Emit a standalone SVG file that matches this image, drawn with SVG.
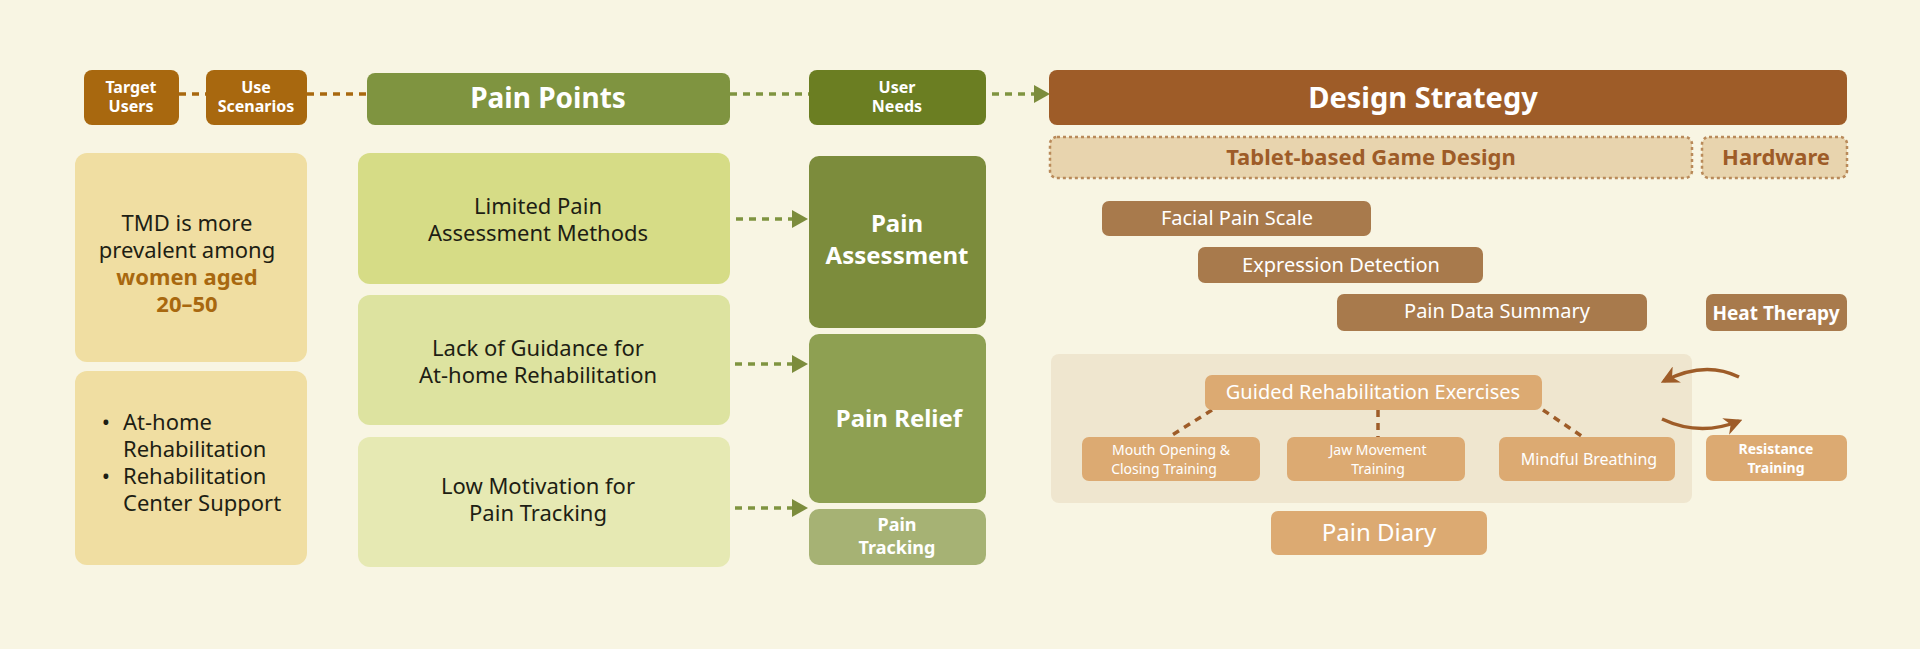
<svg xmlns="http://www.w3.org/2000/svg" width="1920" height="649" viewBox="0 0 1920 649">
<defs>
<style>
text{font-family:"Noto Sans","DejaVu Sans",sans-serif;text-anchor:middle}
.w{fill:#fff}
.b{font-weight:bold}
.d{fill:#1e1e14}
</style>
<marker id="ab" viewBox="0 0 10 10" refX="8" refY="5" markerWidth="18" markerHeight="18" orient="auto" markerUnits="userSpaceOnUse"><path d="M0,0L10,5L0,10L3,5z" fill="#9e5c28"/></marker>
</defs>
<rect width="1920" height="649" fill="#f8f5e3"/>
<g id="panel"><rect x="1051" y="354" width="641" height="149" rx="8" fill="#efe6cf"/></g>
<g id="connectors" fill="none">
<g stroke="#a8680f" stroke-width="3.5" stroke-dasharray="7,6"><line x1="179" y1="94" x2="206" y2="94"/><line x1="307" y1="94" x2="367" y2="94"/></g>
<g stroke="#7f9440" stroke-width="3.5" stroke-dasharray="7,6"><line x1="730" y1="94" x2="809" y2="94"/><line x1="992" y1="94" x2="1035" y2="94"/>
<line x1="736" y1="219" x2="794" y2="219"/><line x1="683" y1="364" x2="794" y2="364"/><line x1="683" y1="508" x2="794" y2="508"/></g>
<g fill="#7c8c3c"><path d="M1034,85L1050,94L1034,103z"/><path d="M792,210L808,219L792,228z"/><path d="M792,355L808,364L792,373z"/><path d="M792,499L808,508L792,517z"/></g>
<g stroke="#9e5c28" stroke-width="3.5" stroke-dasharray="7,6"><line x1="1212" y1="410" x2="1169" y2="437"/><line x1="1378" y1="410" x2="1378" y2="437"/><line x1="1543" y1="410" x2="1583" y2="437"/></g>
<g stroke="#9e5c28" stroke-width="3.5"><path d="M1739,377Q1705,360 1664,381" marker-end="url(#ab)"/><path d="M1662,419Q1700,437 1739,421" marker-end="url(#ab)"/></g>
</g>
<g id="target-users"><rect x="84" y="70" width="95" height="55" rx="8" fill="#a8680f"/><text class="w b" x="131" y="93" font-size="16">Target</text><text class="w b" x="131" y="112" font-size="16">Users</text></g>
<g id="use-scenarios"><rect x="206" y="70" width="101" height="55" rx="8" fill="#a8680f"/><text class="w b" x="256" y="93" font-size="16">Use</text><text class="w b" x="256" y="112" font-size="16">Scenarios</text></g>
<g id="pain-points"><rect x="367" y="73" width="363" height="52" rx="8" fill="#7f9440"/><text class="w b" x="548" y="108" font-size="28">Pain Points</text></g>
<g id="user-needs"><rect x="809" y="70" width="177" height="55" rx="8" fill="#6b7e22"/><text class="w b" x="897" y="93" font-size="16">User</text><text class="w b" x="897" y="112" font-size="16">Needs</text></g>
<g id="design-strategy"><rect x="1049" y="70" width="798" height="55" rx="8" fill="#9e5c28"/><text class="w b" x="1423" y="108" font-size="29">Design Strategy</text></g>
<g id="tmd"><rect x="75" y="153" width="232" height="209" rx="12" fill="#f0dea2"/><text class="d" x="187" y="231" font-size="22">TMD is more</text><text class="d" x="187" y="258" font-size="22">prevalent among</text><text class="b" x="187" y="285" font-size="22" fill="#a8680f">women aged</text><text class="b" x="187" y="312" font-size="22" fill="#a8680f">20–50</text></g>
<g id="scenarios"><rect x="75" y="371" width="232" height="194" rx="12" fill="#f0dea2"/><g class="d" font-size="22"><text x="106" y="430">•</text><text x="123" y="430" style="text-anchor:start">At-home</text><text x="123" y="457" style="text-anchor:start">Rehabilitation</text><text x="106" y="484">•</text><text x="123" y="484" style="text-anchor:start">Rehabilitation</text><text x="123" y="511" style="text-anchor:start">Center Support</text></g></g>
<g id="pp1"><rect x="358" y="153" width="372" height="131" rx="12" fill="#d6dc86"/><text class="d" x="538" y="214" font-size="22">Limited Pain</text><text class="d" x="538" y="241" font-size="22">Assessment Methods</text></g>
<g id="pp2"><rect x="358" y="295" width="372" height="130" rx="12" fill="#dde3a0"/><text class="d" x="538" y="356" font-size="22">Lack of Guidance for</text><text class="d" x="538" y="383" font-size="22">At-home Rehabilitation</text></g>
<g id="pp3"><rect x="358" y="437" width="372" height="130" rx="12" fill="#e6e9b3"/><text class="d" x="538" y="494" font-size="22">Low Motivation for</text><text class="d" x="538" y="521" font-size="22">Pain Tracking</text></g>
<g id="need-assessment"><rect x="809" y="156" width="177" height="172" rx="10" fill="#7c8c3c"/><text class="w b" x="897" y="232" font-size="24">Pain</text><text class="w b" x="897" y="264" font-size="24">Assessment</text></g>
<g id="need-relief"><rect x="809" y="334" width="177" height="169" rx="10" fill="#8ea052"/><text class="w b" x="899" y="427" font-size="24">Pain Relief</text></g>
<g id="need-tracking"><rect x="809" y="509" width="177" height="56" rx="10" fill="#a6b274"/><text class="w b" x="897" y="531" font-size="18">Pain</text><text class="w b" x="897" y="554" font-size="18">Tracking</text></g>
<g id="tablet"><rect x="1050" y="137" width="642" height="41" rx="7" fill="#e8d4ae" stroke="#b98a5a" stroke-width="2.5" stroke-dasharray="3,3"/><text class="b" x="1371" y="165" font-size="22" fill="#9e5c28">Tablet-based Game Design</text></g>
<g id="hardware"><rect x="1702" y="137" width="145" height="41" rx="7" fill="#e8d4ae" stroke="#b98a5a" stroke-width="2.5" stroke-dasharray="3,3"/><text class="b" x="1776" y="165" font-size="22" fill="#9e5c28">Hardware</text></g>
<g id="facial"><rect x="1102" y="201" width="269" height="35" rx="7" fill="#a87a4c"/><text class="w" x="1237" y="225" font-size="20">Facial Pain Scale</text></g>
<g id="expression"><rect x="1198" y="247" width="285" height="36" rx="7" fill="#a87a4c"/><text class="w" x="1341" y="272" font-size="20">Expression Detection</text></g>
<g id="summary"><rect x="1337" y="294" width="310" height="37" rx="7" fill="#a87a4c"/><text class="w" x="1497" y="318" font-size="20">Pain Data Summary</text></g>
<g id="heat"><rect x="1706" y="294" width="141" height="37" rx="7" fill="#a87a4c"/><text class="w b" x="1776" y="320" font-size="19">Heat Therapy</text></g>
<g id="guided"><rect x="1205" y="375" width="337" height="35" rx="7" fill="#dcaa72"/><text class="w" x="1373" y="399" font-size="20">Guided Rehabilitation Exercises</text></g>
<g id="mouth"><rect x="1082" y="437" width="178" height="44" rx="7" fill="#dcaa72"/><text class="w" x="1171" y="455" font-size="14">Mouth Opening &amp;</text><text class="w" x="1164" y="474" font-size="14">Closing Training</text></g>
<g id="jaw"><rect x="1287" y="437" width="178" height="44" rx="7" fill="#dcaa72"/><text class="w" x="1378" y="455" font-size="14">Jaw Movement</text><text class="w" x="1378" y="474" font-size="14">Training</text></g>
<g id="mindful"><rect x="1499" y="437" width="176" height="44" rx="7" fill="#dcaa72"/><text class="w" x="1589" y="465" font-size="16">Mindful Breathing</text></g>
<g id="resistance"><rect x="1706" y="435" width="141" height="46" rx="7" fill="#dcaa72"/><text class="w b" x="1776" y="454" font-size="14">Resistance</text><text class="w b" x="1776" y="473" font-size="14">Training</text></g>
<g id="diary"><rect x="1271" y="511" width="216" height="44" rx="7" fill="#dcaa72"/><text class="w" x="1379" y="541" font-size="24">Pain Diary</text></g>
</svg>
